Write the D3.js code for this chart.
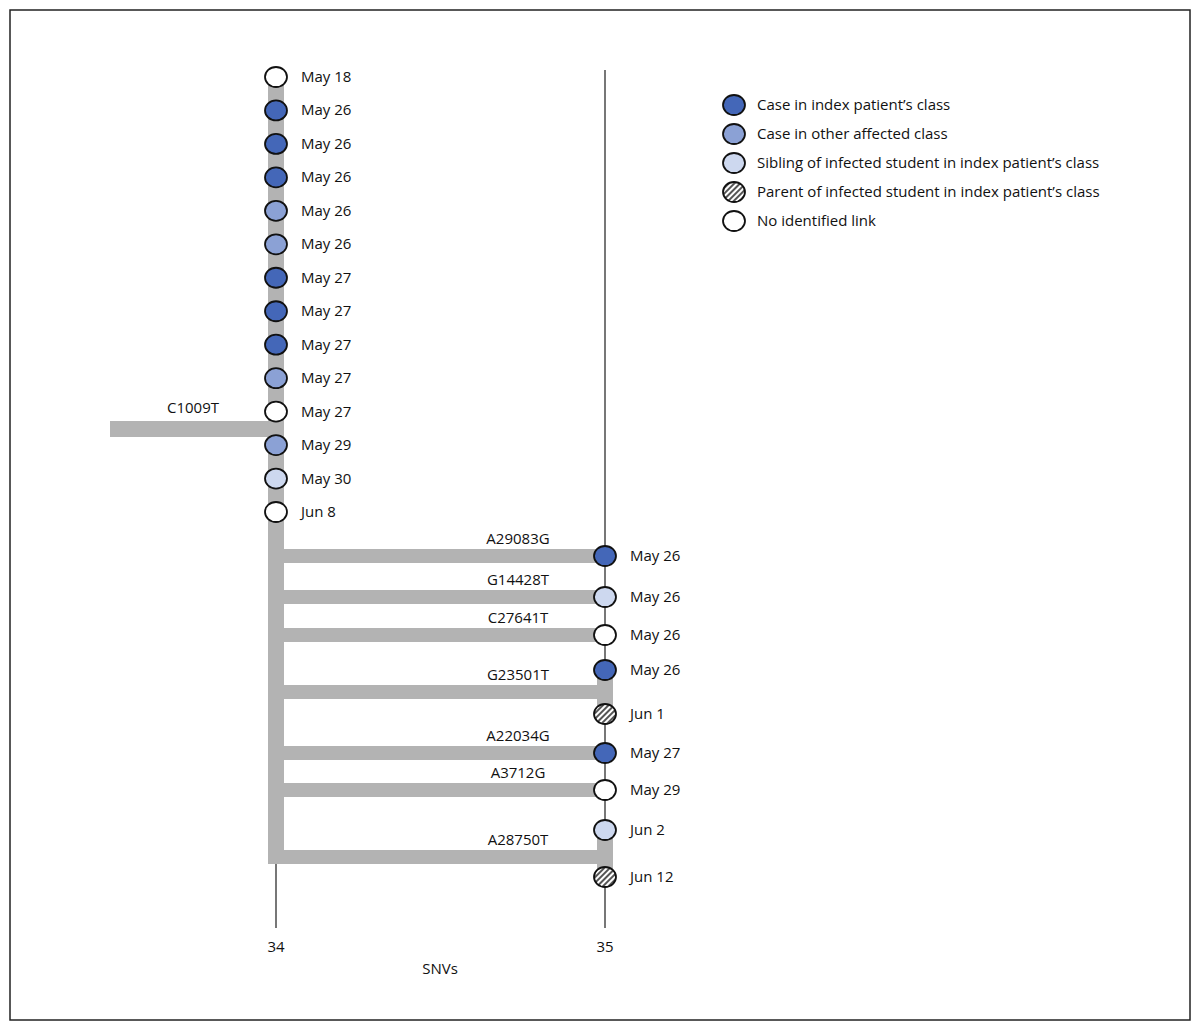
<!DOCTYPE html>
<html>
<head>
<meta charset="utf-8">
<script src="https://cdn.jsdelivr.net/npm/d3@7"></script>
<style>
  body { margin: 0; background: #fff; }
  svg text { font-family: "Open Sans", sans-serif; font-size: 15px; fill: #111; }
</style>
</head>
<body>
<svg id="chart"></svg>
<script>
// category keys
const categories = ['index', 'other', 'sibling', 'parent', 'none'];
const categoryLabels = [
    'Case in index patient\u2019s class',
    'Case in other affected class',
    'Sibling of infected student in index patient\u2019s class',
    'Parent of infected student in index patient\u2019s class',
    'No identified link'
];

// cases at 34 SNVs (top to bottom)
const leftDates = ['May 18', 'May 26', 'May 26', 'May 26', 'May 26', 'May 26', 'May 27', 'May 27',
    'May 27', 'May 27', 'May 27', 'May 29', 'May 30', 'Jun 8'];
const leftCats = ['none', 'index', 'index', 'index', 'other', 'other', 'index', 'index',
    'index', 'other', 'none', 'other', 'sibling', 'none'];

// cases at 35 SNVs, with the branch (mutation) they hang from
const rightDates = ['May 26', 'May 26', 'May 26', 'May 26', 'Jun 1', 'May 27', 'May 29', 'Jun 2', 'Jun 12'];
const rightCats = ['index', 'sibling', 'none', 'index', 'parent', 'index', 'none', 'sibling', 'parent'];
const rightBranch = [0, 1, 2, 3, 3, 4, 5, 6, 6];

const branchLabels = ['A29083G', 'G14428T', 'C27641T', 'G23501T', 'A22034G', 'A3712G', 'A28750T'];
const sideBranch = 'C1009T';
const snvTicks = [34, 35];

const width = 1200, height = 1024;
const fills = { index: '#4467b8', other: '#8ba1d5', sibling: '#cdd8ef', parent: 'url(#hatch)', none: '#fff' };
const grey = '#b3b3b3';

const x = d3.scaleLinear().domain([34, 35]).range([276, 605]);
const yLeft = d3.scalePoint().domain(d3.range(leftDates.length)).range([77, 512]);
const yRight = d3.scaleOrdinal().domain(d3.range(rightDates.length))
    .range([556, 597, 635, 670, 714, 753, 790, 830, 877]);
const yBranch = d3.scaleOrdinal().domain(d3.range(branchLabels.length))
    .range([556, 597, 635, 692, 753, 790, 857]);

const svg = d3.select('#chart').attr('width', width).attr('height', height);

const defs = svg.append('defs');
const pat = defs.append('pattern').attr('id', 'hatch').attr('patternUnits', 'userSpaceOnUse')
    .attr('width', 4).attr('height', 4).attr('patternTransform', 'rotate(45)');
pat.append('rect').attr('width', 4).attr('height', 4).attr('fill', '#fff');
pat.append('rect').attr('width', 2).attr('height', 4).attr('fill', '#555');

svg.append('rect').attr('x', 10).attr('y', 10).attr('width', 1180).attr('height', 1010)
    .attr('fill', 'none').attr('stroke', '#222').attr('stroke-width', 1.5);

// thin guide lines
svg.append('line').attr('x1', x(35)).attr('x2', x(35)).attr('y1', 70).attr('y2', 928)
    .attr('stroke', '#777').attr('stroke-width', 2);
svg.append('line').attr('x1', x(34)).attr('x2', x(34)).attr('y1', 860).attr('y2', 928)
    .attr('stroke', '#777').attr('stroke-width', 2);

// trunk
svg.append('rect').attr('x', x(34) - 8).attr('y', 70).attr('width', 16).attr('height', 864 - 70).attr('fill', grey);
// side branch
svg.append('rect').attr('x', 110).attr('y', 421).attr('width', x(34) - 110).attr('height', 16).attr('fill', grey);
svg.append('text').attr('x', 193).attr('y', 413).attr('text-anchor', 'middle').text(sideBranch);

// branches to 35
branchLabels.forEach((lab, i) => {
    const yb = yBranch(i);
    svg.append('rect').attr('x', x(34)).attr('y', yb - 7).attr('width', x(35) - x(34)).attr('height', 14).attr('fill', grey);
    svg.append('text').attr('x', 518).attr('y', yb - 12).attr('text-anchor', 'middle').text(lab);
    const idx = d3.range(rightDates.length).filter(j => rightBranch[j] === i);
    if (idx.length > 1) {
        const ys = idx.map(j => yRight(j));
        svg.append('rect').attr('x', x(35) - 8).attr('y', d3.min(ys)).attr('width', 16)
            .attr('height', d3.max(ys) - d3.min(ys)).attr('fill', grey);
    }
});

function node(cx, cy, cat, label) {
    svg.append('ellipse').attr('cx', cx).attr('cy', cy).attr('rx', 11).attr('ry', 10)
        .attr('fill', fills[cat]).attr('stroke', '#111').attr('stroke-width', 1.8);
    svg.append('text').attr('x', cx + 25).attr('y', cy + 5).text(label);
}

leftDates.forEach((d, i) => node(x(34), yLeft(i), leftCats[i], d));
rightDates.forEach((d, i) => node(x(35), yRight(i), rightCats[i], d));

// axis labels
snvTicks.forEach(t => svg.append('text').attr('x', x(t)).attr('y', 952).attr('text-anchor', 'middle').text(t));
svg.append('text').attr('x', 440).attr('y', 974).attr('text-anchor', 'middle').text('SNVs');

// legend
categories.forEach((c, i) => {
    const ly = 105 + i * 29;
    svg.append('ellipse').attr('cx', 734).attr('cy', ly).attr('rx', 11).attr('ry', 10)
        .attr('fill', fills[c]).attr('stroke', '#111').attr('stroke-width', 1.8);
    svg.append('text').attr('x', 757).attr('y', ly + 5).text(categoryLabels[i]);
});
</script>
</body>
</html>
